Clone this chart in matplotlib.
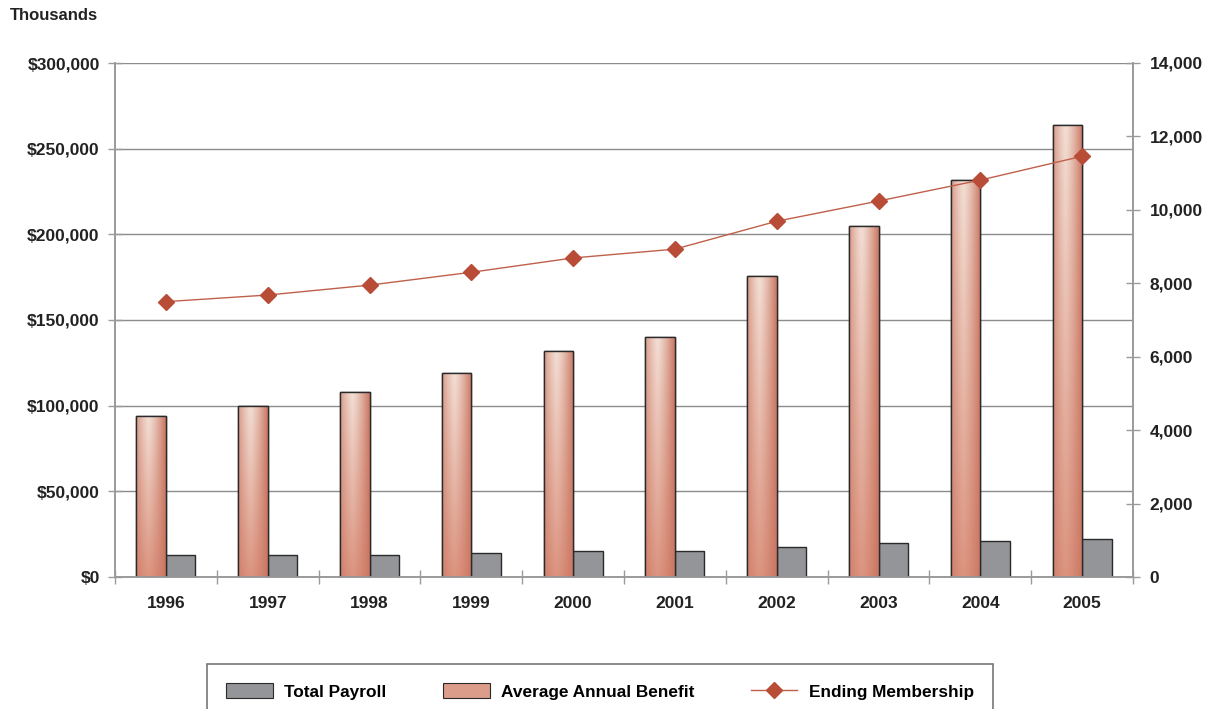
import numpy as np
import matplotlib
matplotlib.use("Agg")
import matplotlib.pyplot as plt
from matplotlib.patches import Patch
from matplotlib.lines import Line2D
from matplotlib.ticker import FuncFormatter, MultipleLocator

plt.rcParams['font.family'] = ['Liberation Sans', 'DejaVu Sans']

years = ['1996', '1997', '1998', '1999', '2000', '2001', '2002', '2003', '2004', '2005']
avg_benefit = [94000, 100000, 108000, 119000, 132000, 140000, 175500, 205000, 232000, 264000]
total_payroll = [13000, 13000, 13000, 14000, 15200, 15200, 17500, 19800, 21000, 22200]
membership = [7500, 7680, 7950, 8300, 8690, 8930, 9690, 10240, 10810, 11460]

W, H = 1211, 709
fig = plt.figure(figsize=(W / 100, H / 100), dpi=100)
ax = fig.add_axes([115 / W, 1 - 577 / H, (1133 - 115) / W, (577 - 63) / H])
ax2 = ax.twinx()

x = np.arange(len(years)) + 0.5
bw = 0.29
gray_spine = '#9a9a9a'

# gradient image for benefit bars
nx, ny = 120, 120
u = np.linspace(0, 1, nx)
v = np.linspace(0, 1, ny)[:, None]  # 0 top -> 1 bottom
t = np.clip(np.abs(u - 0.42) / 0.58, 0, 1) ** 1.3
light_top = np.array([0.95, 0.87, 0.83])
light_bot = np.array([0.86, 0.58, 0.50])
dark = np.array([0.79, 0.46, 0.38])
center = light_top[None, None, :] * (1 - v[..., None]) + light_bot[None, None, :] * v[..., None]
img = center * (1 - t[None, :, None]) + dark[None, None, :] * t[None, :, None]

bars = ax.bar(x - bw / 2, avg_benefit, width=bw, color='#d89a88', edgecolor='#2a2a2a',
              linewidth=1.0, zorder=3)
for b in bars:
    bx, by = b.get_x(), b.get_y()
    bwid, bh = b.get_width(), b.get_height()
    im = ax.imshow(img, extent=(bx, bx + bwid, by, by + bh), aspect='auto',
                   zorder=3.5, interpolation='bilinear')
    im.set_clip_path(b)
    ax.bar(bx + bwid / 2, bh, width=bwid, color='none', edgecolor='#2a2a2a',
           linewidth=1.0, zorder=4)

ax.bar(x + bw / 2, total_payroll, width=bw, color='#939598', edgecolor='#2a2a2a',
       linewidth=1.0, zorder=3)

ax.set_xlim(0, len(years))
ax.set_ylim(0, 300000)
ax.set_aspect('auto')
ax.yaxis.set_major_locator(MultipleLocator(50000))
ax.yaxis.set_major_formatter(FuncFormatter(lambda val, p: f'${val:,.0f}'))
ax.grid(axis='y', color='#8c8c8c', linewidth=1.0, zorder=0)
ax.set_axisbelow(True)

ax.set_xticks(np.arange(0, len(years) + 1))
ax.set_xticklabels([])
ax.set_xticks(x, minor=True)
ax.set_xticklabels(years, minor=True)
ax.tick_params(axis='x', which='major', direction='inout', length=10, color=gray_spine, width=1)
ax.tick_params(axis='x', which='minor', length=0, pad=14, labelsize=12.5, labelcolor='#222222')
for lab in ax.get_xticklabels(minor=True):
    lab.set_fontweight('bold')
ax.tick_params(axis='y', direction='inout', length=10, color=gray_spine, width=1,
               labelsize=12.5, labelcolor='#222222', pad=6)
for lab in ax.get_yticklabels():
    lab.set_fontweight('bold')

ax2.plot(x, membership, color='#c0604a', linewidth=1.0, marker='D', markersize=8,
         markerfacecolor='#b84c36', markeredgecolor='#b84c36', zorder=5)
ax2.set_ylim(0, 14000)
ax2.yaxis.set_major_locator(MultipleLocator(2000))
ax2.yaxis.set_major_formatter(FuncFormatter(lambda val, p: f'{val:,.0f}'))
ax2.tick_params(axis='y', direction='inout', length=10, color=gray_spine, width=1,
                labelsize=12.5, labelcolor='#222222', pad=7)
for lab in ax2.get_yticklabels():
    lab.set_fontweight('bold')

for a in (ax, ax2):
    a.spines['top'].set_visible(False)
    for s in ('left', 'right', 'bottom'):
        a.spines[s].set_color(gray_spine)
        a.spines[s].set_linewidth(1.2)
ax2.set_zorder(ax.get_zorder() + 1)
ax2.patch.set_visible(False)

fig.text(10 / W, 1 - 15 / H, 'Thousands', fontsize=12, fontweight='bold',
         color='#222222', va='center', ha='left')

handles = [
    Patch(facecolor='#939598', edgecolor='#2a2a2a', linewidth=0.8),
    Patch(facecolor='#dc9c8a', edgecolor='#2a2a2a', linewidth=0.8),
    Line2D([0], [0], color='#c0604a', linewidth=1.0, marker='D', markersize=8,
           markerfacecolor='#b84c36', markeredgecolor='#b84c36'),
]
labels = ['Total Payroll', 'Average Annual Benefit', 'Ending Membership']
leg = fig.legend(handles, labels, loc='upper center', bbox_to_anchor=(600 / W, 1 - 664 / H),
                 ncol=3, frameon=True, fancybox=False, edgecolor='#555555',
                 prop={'weight': 'bold', 'size': 12.4}, handlelength=2.7, handleheight=1.0,
                 columnspacing=3.3, borderpad=1.1, handletextpad=0.65, borderaxespad=0)
leg.get_frame().set_linewidth(1.2)

fig.savefig('out.png', dpi=100)
